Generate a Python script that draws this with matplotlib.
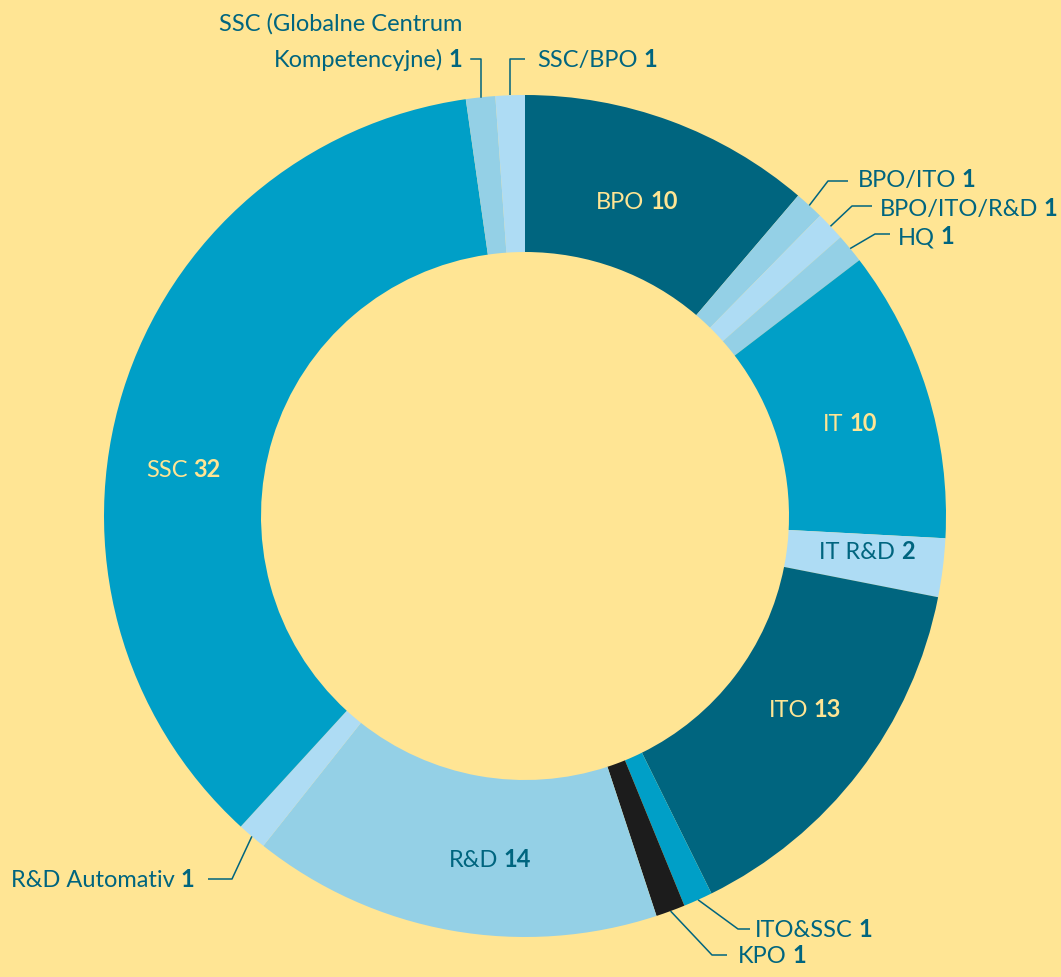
import numpy as np
import matplotlib.pyplot as plt
from matplotlib.offsetbox import TextArea, HPacker, VPacker, AnnotationBbox

plt.rcParams['font.family'] = ['Lato', 'DejaVu Sans']

# segments, clockwise from 12 o'clock
names = ['BPO', 'BPO/ITO', 'BPO/ITO/R&D', 'HQ', 'IT', 'IT R&D', 'ITO',
         'ITO&SSC', 'KPO', 'R&D', 'R&D Automativ', 'SSC',
         'SSC (Globalne Centrum\nKompetencyjne)', 'SSC/BPO']
counts = [10, 1, 1, 1, 10, 2, 13, 1, 1, 14, 1, 32, 1, 1]

BG = '#FFE594'
DARK = '#00657F'
MID = '#009FC7'
PALE = '#94D0E6'
LIGHT = '#AEDCF4'
BLACK = '#1C1C1C'
colors = [DARK, PALE, LIGHT, PALE, MID, LIGHT, DARK, MID, BLACK, PALE,
          LIGHT, MID, PALE, LIGHT]

W, H = 1061, 978
cx, cy = 525, H - 517
R_OUT, R_IN = 421, 264

fig = plt.figure(figsize=(W / 100, H / 100), dpi=100, facecolor=BG)
ax = fig.add_axes([0, 0, 1, 1])
ax.set_facecolor(BG)
ax.axis('off')

wedges, _ = ax.pie(counts, colors=colors, startangle=90, counterclock=False,
                   center=(cx, cy), radius=R_OUT,
                   wedgeprops=dict(width=R_OUT - R_IN, linewidth=0))
ax.set_xlim(0, W)
ax.set_ylim(0, H)
ax.set_aspect('equal')

FS = 17


def label_box(name, num, color, align):
    lines = name.split('\n')
    last = HPacker(children=[
        TextArea(lines[-1], textprops=dict(color=color, fontsize=FS)),
        TextArea(str(num), textprops=dict(color=color, fontsize=FS,
                                          fontweight='bold'))],
        sep=4, pad=0, align='baseline')
    if len(lines) == 1:
        return last
    rows = [TextArea(l, textprops=dict(color=color, fontsize=FS))
            for l in lines[:-1]] + [last]
    return VPacker(children=rows, sep=10, pad=0, align=align)


def place(box, xy, halign):
    ab = AnnotationBbox(box, xy, frameon=False, xycoords='data',
                        box_alignment=(halign, 0.5), pad=0)
    ax.add_artist(ab)


def mid_angle(w):
    return np.deg2rad((w.theta1 + w.theta2) / 2)


# labels inside the ring: (index, text colour, pixel position)
inside = [(0, BG, (637, 202)), (4, BG, (850, 424)), (5, DARK, (867, 552)),
          (6, BG, (805, 710)), (9, DARK, (490, 860)), (11, BG, (183, 470))]
for i, col, (px, py) in inside:
    place(label_box(names[i], counts[i], col, 'left'), (px, H - py), 0.5)

# leader-line labels: (index, elbow, line end, text anchor, alignment)
outside = [
    (1, (828, 182), (848, 182), (858, 180), 0),
    (2, (852, 207), (872, 207), (880, 209), 0),
    (3, (875, 235), (890, 235), (898, 237), 0),
    (7, (738, 930), (750, 930), (755, 930), 0),
    (8, (712, 956), (727, 956), (738, 956), 0),
    (10, (232, 880), (208, 880), (194, 880), 1),
    (13, (513, 60), (525, 60), (537, 60), 0),
]
for i, elbow, end, anchor, ha in outside:
    a = mid_angle(wedges[i])
    sx, sy = cx + R_OUT * np.cos(a), cy + R_OUT * np.sin(a)
    if i == 13:
        elbow = (sx, elbow[1])
    ax.plot([sx, elbow[0], end[0]], [sy, H - elbow[1], H - end[1]],
            color=DARK, lw=1.1, solid_capstyle='butt')
    place(label_box(names[i], counts[i], DARK, 'left'),
          (anchor[0], H - anchor[1]), ha)

# two-line label above the top of the ring
a = mid_angle(wedges[12])
sx, sy = cx + R_OUT * np.cos(a), cy + R_OUT * np.sin(a)
ax.plot([sx, sx, 471], [sy, H - 60, H - 60], color=DARK, lw=1.1)
gck = label_box(names[12], counts[12], DARK, 'right')
ab = AnnotationBbox(gck, (462, H - 71), frameon=False, xycoords='data',
                    box_alignment=(1, 0), pad=0)
ax.add_artist(ab)

fig.savefig('out.png', dpi=100, facecolor=BG)
